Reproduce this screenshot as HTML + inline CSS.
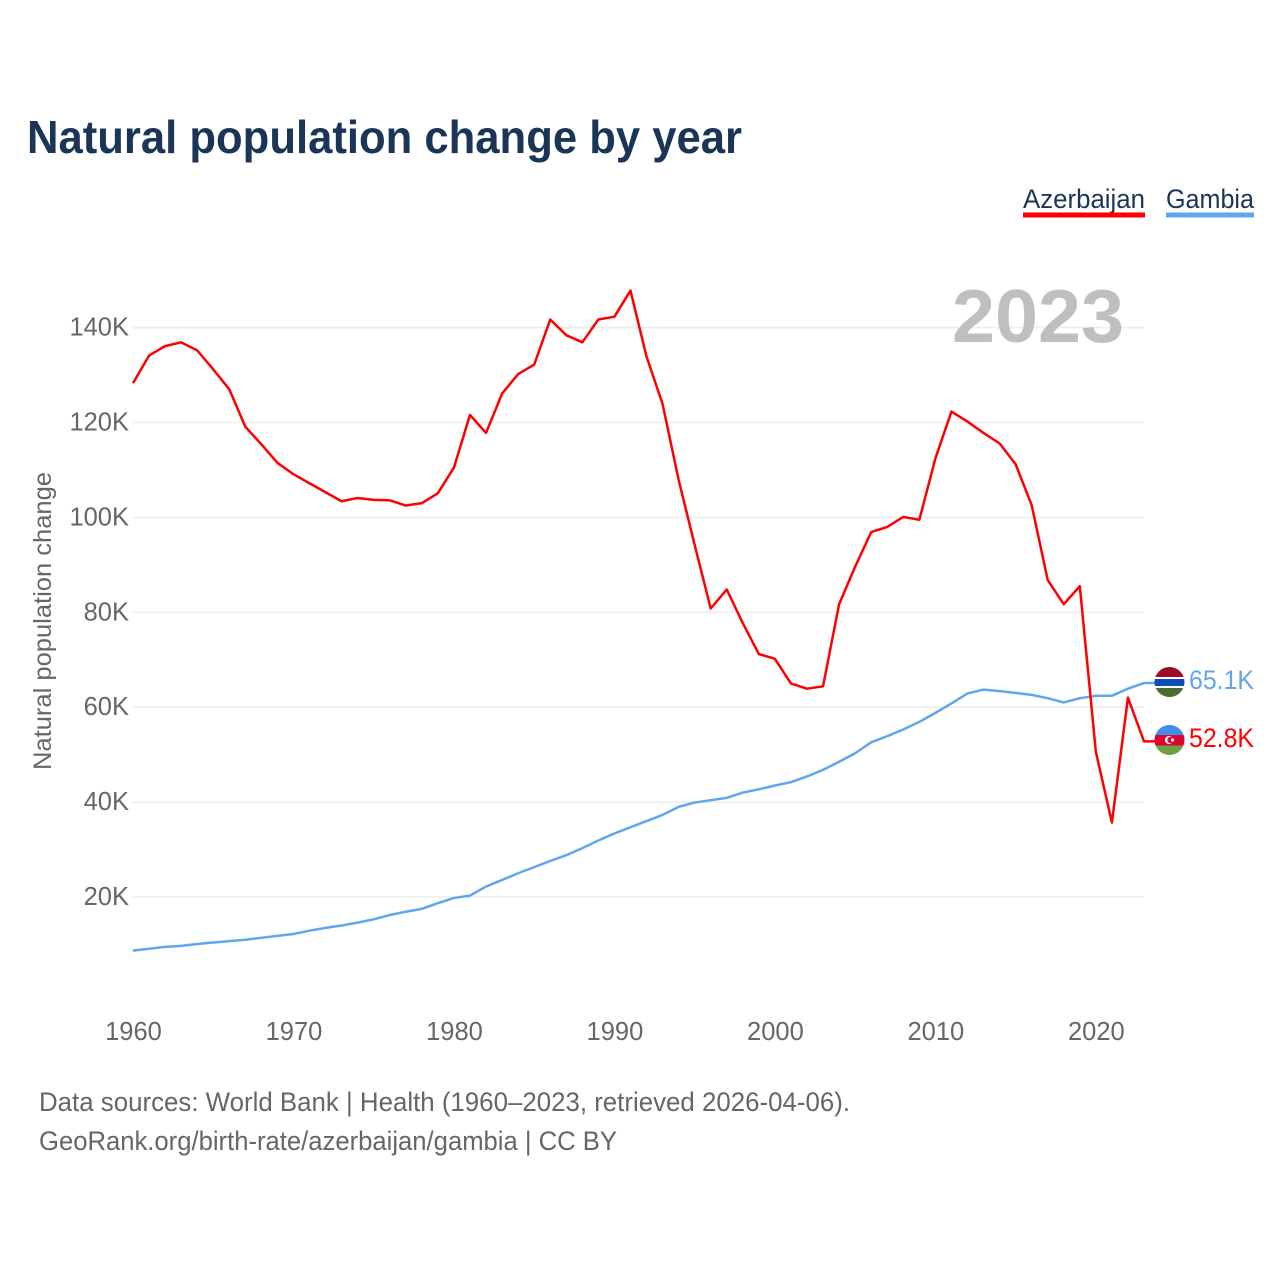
<!DOCTYPE html>
<html lang="en">
<head>
<meta charset="utf-8">
<title>Natural population change by year</title>
<style>
  html, body { margin: 0; padding: 0; background: #fff; }
  body { width: 1280px; height: 1280px; overflow: hidden; }
  svg { display: block; font-family: "Liberation Sans", "DejaVu Sans", sans-serif; }
</style>
</head>
<body>
<svg id="chart" xmlns="http://www.w3.org/2000/svg" width="1280" height="1280" viewBox="0 0 1280 1280">
  <rect x="0" y="0" width="1280" height="1280" fill="#ffffff"/>
  <text x="27" y="153" font-size="46" font-weight="700" fill="#1a3555" textLength="715" lengthAdjust="spacingAndGlyphs">Natural population change by year</text>

  <g>
    <g>
      <text x="1023" y="208" font-size="27" fill="#1a3555" textLength="122" lengthAdjust="spacingAndGlyphs">Azerbaijan</text>
      <rect x="1023" y="212.5" width="122" height="5" fill="#ff0000"/>
    </g>
    <g>
      <text x="1166" y="208" font-size="27" fill="#1a3555" textLength="88" lengthAdjust="spacingAndGlyphs">Gambia</text>
      <rect x="1166" y="212.5" width="88" height="5" fill="#61a5ed"/>
    </g>
  </g>

  <g id="grid"></g>
  <g id="yticks"></g>
  <g id="xticks"></g>

  <text transform="translate(51,770) rotate(-90)" font-size="25" fill="#666666" textLength="298" lengthAdjust="spacingAndGlyphs">Natural population change</text>

  <text x="952" y="342" font-size="75" font-weight="700" fill="#bfbfbf" textLength="172" lengthAdjust="spacingAndGlyphs">2023</text>

  <g id="series"></g>

  <g>
    <clipPath id="clip-gm"><circle cx="1169.5" cy="682" r="15"/></clipPath>
    <g clip-path="url(#clip-gm)">
      <rect x="1154" y="666" width="31" height="11" fill="#a00b28"/>
      <rect x="1154" y="677" width="31" height="2" fill="#ffffff"/>
      <rect x="1154" y="679" width="31" height="7" fill="#0a50b4"/>
      <rect x="1154" y="686" width="31" height="2" fill="#ffffff"/>
      <rect x="1154" y="688" width="31" height="10" fill="#4a6c2f"/>
    </g>
  </g>
  <g>
    <clipPath id="clip-az"><circle cx="1169.5" cy="740" r="15"/></clipPath>
    <g clip-path="url(#clip-az)">
      <rect x="1154" y="724" width="31" height="11" fill="#3f8ee8"/>
      <rect x="1154" y="735" width="31" height="10.5" fill="#dc0530"/>
      <rect x="1154" y="745.5" width="31" height="11" fill="#6da046"/>
      <circle cx="1169" cy="740" r="4" fill="#ffffff"/>
      <circle cx="1170.5" cy="740" r="3.2" fill="#dc0530"/>
      <circle cx="1172.5" cy="740" r="1.6" fill="#ffffff"/>
    </g>
  </g>

  <text x="1189" y="689" font-size="27" fill="#61a5ed" textLength="65" lengthAdjust="spacingAndGlyphs">65.1K</text>
  <text x="1189" y="747" font-size="27" fill="#ff0000" textLength="65" lengthAdjust="spacingAndGlyphs">52.8K</text>

  <text x="39" y="1111" font-size="26.5" fill="#666666" textLength="811" lengthAdjust="spacingAndGlyphs">Data sources: World Bank | Health (1960–2023, retrieved 2026-04-06).</text>
  <text x="39" y="1150" font-size="26.5" fill="#666666" textLength="578" lengthAdjust="spacingAndGlyphs">GeoRank.org/birth-rate/azerbaijan/gambia | CC BY</text>
</svg>
<script>
const firstYear = 1960;
const yTickValues = [20, 40, 60, 80, 100, 120, 140];
const yTickLabels = ["20K", "40K", "60K", "80K", "100K", "120K", "140K"];
const xTickYears = [1960, 1970, 1980, 1990, 2000, 2010, 2020];
const azerbaijanValues = [
  128.3, 134.1, 136.1, 136.9, 135.2, 131.2, 127.0, 119.1, 115.4, 111.5,
  109.1, 107.2, 105.3, 103.4, 104.1, 103.7, 103.6, 102.5, 103.0, 105.1,
  110.5, 121.6, 117.8, 126.1, 130.2, 132.2, 141.7, 138.4, 136.9, 141.7,
  142.3, 147.8, 133.9, 123.9, 107.9, 94.2, 80.8, 84.8, 77.7, 71.2,
  70.2, 65.0, 63.9, 64.4, 81.7, 89.6, 96.9, 98.0, 100.1, 99.5,
  112.4, 122.3, 120.2, 117.8, 115.6, 111.2, 102.6, 86.8, 81.7, 85.5,
  50.6, 35.7, 62.0, 52.8
];
const gambiaValues = [
  8.7, 9.1, 9.5, 9.7, 10.1, 10.4, 10.7, 11.0, 11.4, 11.8,
  12.2, 12.9, 13.5, 14.0, 14.6, 15.3, 16.2, 16.9, 17.5, 18.7,
  19.8, 20.3, 22.2, 23.6, 25.0, 26.3, 27.6, 28.8, 30.3, 31.9,
  33.4, 34.7, 36.0, 37.3, 39.0, 39.9, 40.4, 40.9, 42.0, 42.7,
  43.5, 44.2, 45.4, 46.8, 48.5, 50.3, 52.6, 53.9, 55.3, 56.9,
  58.8, 60.8, 62.9, 63.7, 63.4, 63.0, 62.6, 61.9, 61.0, 61.9,
  62.4, 62.4, 63.9, 65.1
];

const NS = "http://www.w3.org/2000/svg";
const plotLeft = 133;
const plotRight = 1144;
const lastYear = firstYear + azerbaijanValues.length - 1;
function xScale(year) {
  return plotLeft + (year - firstYear) * (plotRight - plotLeft) / (lastYear - firstYear);
}
function yScale(value) {
  return 897 - (value - 20) * 4.745;
}
function make(tag, attrs) {
  const el = document.createElementNS(NS, tag);
  for (const k in attrs) el.setAttribute(k, attrs[k]);
  return el;
}

const grid = document.getElementById("grid");
const yticks = document.getElementById("yticks");
yTickValues.forEach(function (v, i) {
  const line = make("line", { x1: plotLeft, x2: plotRight, y1: yScale(v), y2: yScale(v), stroke: "#eeeeee", "stroke-width": 1.6 });
  
  
  grid.appendChild(line);
  const label = make("text", { x: 129, y: yScale(v) + 8, "text-anchor": "end", "font-size": 25.5, fill: "#666666" });
  
  
  label.textContent = yTickLabels[i];
  yticks.appendChild(label);
});

const xticks = document.getElementById("xticks");
xTickYears.forEach(function (year) {
  const label = make("text", { x: xScale(year) + 0.5, y: 1040, "text-anchor": "middle", "font-size": 25.5, fill: "#666666" });
  
  
  label.textContent = String(year);
  xticks.appendChild(label);
});

function drawSeries(values, color, flagX, name) {
  const points = values.map(function (v, i) {
    return xScale(firstYear + i).toFixed(2) + "," + yScale(v).toFixed(2);
  });
  points.push(flagX + "," + yScale(values[values.length - 1]).toFixed(2));
  const line = make("polyline", { points: points.join(" "), fill: "none", stroke: color, "stroke-width": 2.5, "stroke-linejoin": "round" });
  
  
  document.getElementById("series").appendChild(line);
}
drawSeries(gambiaValues, "#61a5ed", 1156, "line-gambia");
drawSeries(azerbaijanValues, "#ff0000", 1156, "line-azerbaijan");
</script>
</body>
</html>
